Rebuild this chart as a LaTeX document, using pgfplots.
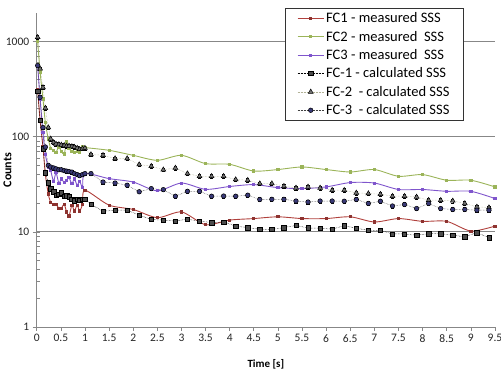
\documentclass[border=0pt]{standalone}
\usepackage{fontspec}
\setmainfont{Carlito}
\usepackage{pgfplots}
\pgfplotsset{compat=1.18}

\definecolor{fcred}{HTML}{B0403C}
\definecolor{fcgreen}{HTML}{9BB459}
\definecolor{fcpurple}{HTML}{7F55CC}
\definecolor{axgray}{HTML}{878787}
\definecolor{fc3fill}{HTML}{3A3A78}

\pgfplotsset{
  measured/.style={smooth, tension=0.45, line width=0.9pt, mark=square*, mark size=1.1pt},
  calc/.style={line width=0.5pt, densely dotted,
    error bars/y dir=both, error bars/y fixed relative=0.045,
    error bars/error bar style={solid, black, line width=0.5pt},
    error bars/error mark options={rotate=90, mark size=1.6pt, black, solid}},
}

\begin{document}
\begin{tikzpicture}
\useasboundingbox (-36.7pt,-47pt) rectangle (464.3pt,327pt);
\begin{axis}[
  at={(0pt,0pt)}, anchor=south west,
  scale only axis, width=458.3pt, height=314pt,
  ymode=log, ymin=1, ymax=2000,
  xmin=0, xmax=9.5,
  xtick={0,0.5,...,9.5},
  ytick={1,10,100,1000},
  log ticks with fixed point,
  /pgf/number format/1000 sep={},
  axis x line=bottom, axis y line=left,
  axis line style={-, axgray, line width=0.8pt},
  ymajorgrids, grid style={axgray, line width=0.8pt},
  tick style={axgray, line width=0.6pt},
  tick align=outside,
  major tick length=4pt, minor tick length=3.5pt,
  minor y tick style={xshift=3.5pt},
  every tick label/.append style={font=\fontsize{11.5}{13}\selectfont, text=black!85},
  /pgf/number format/assume math mode=true,
  xlabel={\textbf{Time [s]}},
  ylabel={\textbf{Counts}},
  xlabel style={font=\fontsize{11}{13}\selectfont, at={(axis description cs:0.5,-0.118)}, anchor=center},
  ylabel style={font=\fontsize{12}{14}\selectfont, at={(axis description cs:-0.064,0.5)}, anchor=center},
  clip=false,
  legend cell align=left,
  legend style={at={(0.932,1.015)}, anchor=north east, draw=black!80, line width=0.7pt,
    font=\fontsize{14.5}{17.5}\selectfont, row sep=2.8pt,
    inner xsep=12pt, inner ysep=2pt, fill=white},
  legend image code/.code={\draw[mark repeat=2, mark phase=2, #1] plot coordinates {(0pt,0pt) (13pt,0pt) (26pt,0pt)};},
]

% FC1 measured
\addplot[measured, color=fcred, mark options={fill=fcred!80!black, draw=fcred!80!black}] table {
t v
0.02 310
0.07 150
0.13 78
0.18 40
0.24 25
0.29 20.5
0.35 19.5
0.40 19.5
0.46 17.7
0.51 17.7
0.57 19.5
0.62 16.2
0.67 14.7
0.73 19.1
0.78 16.6
0.84 19.1
0.89 16.6
0.95 19.5
1.00 27.4
1.5 19.1
2.0 17.2
2.5 14.1
3.0 16.2
3.5 11.9
4.0 13.3
4.5 13.8
5.0 14.4
5.5 13.8
6.0 13.8
6.5 14.4
7.0 12.7
7.5 13.8
8.0 12.9
8.5 12.9
9.0 10.2
9.5 11.5
};
\addlegendentry{FC1 - measured SSS}

% FC2 measured
\addplot[measured, color=fcgreen, mark options={fill=fcgreen, draw=fcgreen}] table {
t v
0.02 1000
0.07 480
0.13 250
0.18 140
0.24 95
0.29 76
0.35 72
0.40 69
0.46 78
0.51 70
0.57 66
0.62 88
0.67 75
0.73 70
0.78 69
0.84 71
0.89 68
0.95 78
1.00 77
1.5 72
2.0 63.8
2.5 56.5
3.0 63.8
3.5 52.2
4.0 51.3
4.5 43.6
5.0 45.2
5.5 48.1
6.0 45.2
6.5 42.6
7.0 45.2
7.5 38.4
8.0 40.0
8.5 34.9
9.0 34.9
9.5 29.7
};
\addlegendentry{FC2 - measured\ \ SSS}

% FC3 measured
\addplot[measured, color=fcpurple, mark options={fill=fcpurple, draw=fcpurple}] table {
t v
0.02 560
0.07 250
0.13 110
0.18 65
0.24 48
0.29 44
0.35 34
0.40 42
0.46 32.5
0.51 36
0.57 33
0.62 35
0.67 37
0.73 32
0.78 36
0.84 31
0.89 34
0.95 29.5
1.00 41
1.5 36.3
2.0 33.4
2.5 27
3.0 32.6
3.5 28
4.0 30
4.5 31.4
5.0 29.2
5.5 28.5
6.0 29.7
6.5 33.0
7.0 32.6
7.5 27.9
8.0 27.9
8.5 26.7
9.0 26.7
9.5 22.4
};
\addlegendentry{FC3 - measured\ \ SSS}

% FC-1 calculated
\addplot[calc, color=black, mark=square*, mark size=2.2pt, mark options={solid, fill=black!70, draw=black}] table {
t v
0.02 300
0.07 150
0.13 75
0.18 42
0.24 33
0.29 28.5
0.35 26.3
0.40 24.3
0.46 24.9
0.51 25.7
0.57 23.7
0.62 24
0.67 23.3
0.73 22
0.78 21.2
0.84 21.9
0.89 21.5
0.95 21.9
1.00 21.9
1.125 19.5
1.375 16.5
1.625 16.9
1.875 16.9
2.125 15.0
2.375 13.5
2.625 13.3
2.875 13.0
3.125 13.6
3.375 13.0
3.625 12.5
3.875 12.7
4.125 11.5
4.375 11.1
4.625 10.6
4.875 10.6
5.125 11.1
5.375 11.7
5.625 11.0
5.875 10.9
6.125 10.7
6.375 11.6
6.625 10.9
6.875 10.4
7.125 10.4
7.375 9.5
7.625 9.5
7.875 9.2
8.125 9.6
8.375 9.6
8.625 9.2
8.875 8.9
9.125 9.8
9.375 8.7
};
\addlegendentry{FC-1 - calculated SSS}

% FC-2 calculated
\addplot[calc, color={rgb,255:red,178;green,178;blue,150}, mark=triangle*, mark size=2.8pt, mark options={solid, fill=black!55, draw=black}] table {
t v
0.02 1110
0.07 520
0.13 330
0.18 200
0.24 125
0.29 95
0.35 87
0.40 84
0.46 83
0.51 82
0.57 81
0.62 80
0.67 80
0.73 79
0.78 78
0.84 76
0.89 74
0.95 75
1.00 76
1.125 65
1.375 64
1.625 59
1.875 59
2.125 51
2.375 49
2.625 45
2.875 47
3.125 41
3.375 38.4
3.625 38.4
3.875 38.4
4.125 35.5
4.375 34.9
4.625 32.2
4.875 32.2
5.125 30.2
5.375 29.0
5.625 29.7
5.875 29.0
6.125 27.4
6.375 27.4
6.625 25.7
6.875 25.3
7.125 24.9
7.375 23.7
7.625 23.7
7.875 23.3
8.125 21.5
8.375 21.5
8.625 21.2
8.875 19.9
9.125 18.3
9.375 18.0
};
\addlegendentry{FC-2\ \ - calculated SSS}

% FC-3 calculated
\addplot[calc, color=black!75, mark=*, mark size=2.3pt, mark options={solid, fill=fc3fill, draw=black}] table {
t v
0.02 560
0.07 260
0.13 125
0.18 78
0.24 50
0.29 48
0.35 47
0.40 46
0.46 45
0.51 45
0.57 44
0.62 43.5
0.67 43
0.73 42.5
0.78 41
0.84 40
0.89 39
0.95 40
1.00 41
1.125 41
1.375 33.4
1.625 32.6
1.875 30.9
2.125 26.4
2.375 28.5
2.625 27.8
2.875 23.7
3.125 26.7
3.375 26.7
3.625 23.7
3.875 23.8
4.125 23.7
4.375 24.3
4.625 21.9
4.875 22.0
5.125 22.0
5.375 21.1
5.625 20.6
5.875 21.1
6.125 21.1
6.375 21.0
6.625 21.9
6.875 19.9
7.125 21.0
7.375 18.7
7.625 19.4
7.875 17.6
8.125 19.9
8.375 17.6
8.625 17.2
8.875 17.2
9.125 16.9
9.375 16.9
};
\addlegendentry{FC-3\ \ - calculated SSS}

\end{axis}
\end{tikzpicture}
\end{document}
